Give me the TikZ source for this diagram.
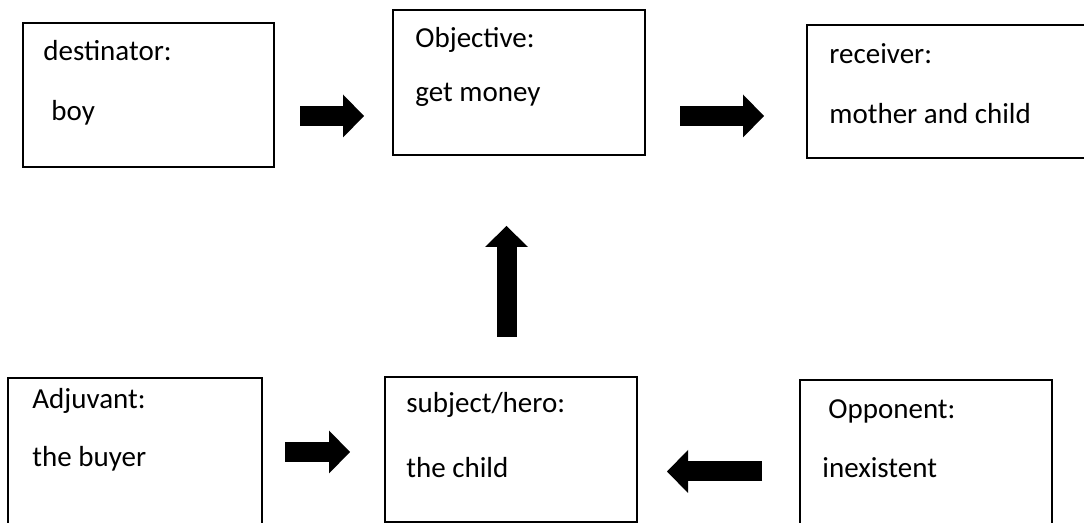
\documentclass[tikz,border=0pt]{standalone}
\usepackage{fontspec}
\setmainfont{Carlito}
\usetikzlibrary{arrows.meta}

\begin{document}
\begin{tikzpicture}[
    x=0.5pt, y=-0.5pt,
    box/.style={rectangle,draw,line width=0.7pt,inner sep=0pt},
    lbl/.style={anchor=base west,inner sep=0pt,font=\fontsize{14.5}{17}\selectfont},
    arr/.style={line width=10pt,-{Triangle[width=21.5pt,length=10.5pt,line width=0pt]}}
]
\useasboundingbox (0,0) rectangle (1084,523);
\clip (0,0) rectangle (1084,523);

% top row
\node[box,minimum width=125.5pt,minimum height=72pt] (dest) at (148.5,95) {};
\node[box,minimum width=126pt,minimum height=72.5pt] (obj) at (519,82.5) {};
\node[box,minimum width=146.5pt,minimum height=66.5pt] (recv) at (953.5,91.5) {};

% bottom row
\node[box,minimum width=127pt,minimum height=81pt] (adj) at (135,459) {};
\node[box,minimum width=126pt,minimum height=72.5pt] (subj) at (511,449.5) {};
\node[box,minimum width=126pt,minimum height=80pt] (opp) at (926,460) {};

% texts in the boxes
\node[lbl] (destA) at (43,61) {destinator:};
\node[lbl] (destB) at (51,121) {boy};
\node[lbl] (objA) at (415,48) {Objective:};
\node[lbl] (objB) at (415,102) {get money};
\node[lbl] (recvA) at (829,64) {receiver:};
\node[lbl] (recvB) at (829,124) {mother and child};
\node[lbl] (adjA) at (32,409) {Adjuvant:};
\node[lbl] (adjB) at (32,467) {the buyer};
\node[lbl] (subjA) at (406,413) {subject/hero:};
\node[lbl] (subjB) at (406,478) {the child};
\node[lbl] (oppA) at (828,419) {Opponent:};
\node[lbl] (oppB) at (822,478) {inexistent};

% arrow ends
\coordinate (a1s) at (300,116);   \coordinate (a1e) at (364,116);
\coordinate (a2s) at (680,116);   \coordinate (a2e) at (764,116);
\coordinate (a3s) at (506.5,337); \coordinate (a3e) at (506.5,226);
\coordinate (a4s) at (285,452);   \coordinate (a4e) at (350,452);
\coordinate (a5s) at (762,471.5); \coordinate (a5e) at (667,471.5);

% block arrows
\draw[arr] (a1s) -- (a1e);
\draw[arr] (a2s) -- (a2e);
\draw[arr] (a3s) -- (a3e);
\draw[arr] (a4s) -- (a4e);
\draw[arr] (a5s) -- (a5e);

\end{tikzpicture}
\end{document}
